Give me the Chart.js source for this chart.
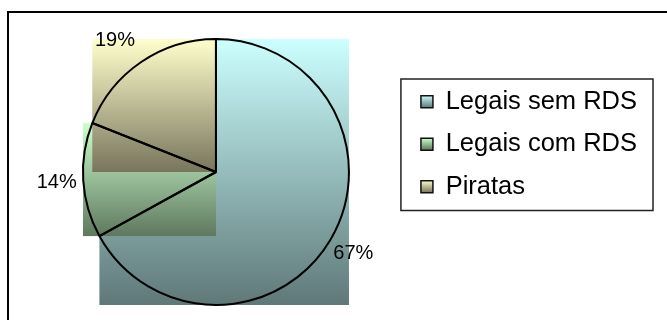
<!DOCTYPE html>
<html>
<head>
<meta charset="utf-8">
<script src="https://cdn.jsdelivr.net/npm/chart.js@4"></script>
<style>
  html, body { margin: 0; padding: 0; background: #fff; overflow: hidden; }
  #frame { position: absolute; left: 7px; top: 11px; width: 700px; height: 400px; border: 2px solid #000; }
  #wrap { position: absolute; left: 0; top: 0; width: 667px; height: 320px; }
</style>
</head>
<body>
<div id="frame"></div>
<div id="wrap"><canvas id="pie" width="667" height="320"></canvas></div>
<script>
// 資料
const categories = ['Legais sem RDS', 'Legais com RDS', 'Piratas'];
const shares = [67, 14, 19];

// 漸層配色 (上 → 下)
const TOP_COLORS = ['#ccffff', '#ccffcc', '#ffffcc'];
const BOTTOM_COLORS = ['#5f7878', '#5f785f', '#78755c'];
const FONT = '"Liberation Sans", Arial, sans-serif';

function arcProps(arc) {
    return arc.getProps(['x', 'y', 'startAngle', 'endAngle', 'outerRadius'], true);
}

// 扇形的外接矩形
function sliceBox(arc) {
    const { x, y, startAngle, endAngle, outerRadius: r } = arcProps(arc);
    const xs = [x, x + r * Math.cos(startAngle), x + r * Math.cos(endAngle)];
    const ys = [y, y + r * Math.sin(startAngle), y + r * Math.sin(endAngle)];
    for (let k = -4; k <= 8; k++) {
        const a = k * Math.PI / 2;
        if (a > startAngle && a < endAngle) {
            xs.push(x + r * Math.cos(a));
            ys.push(y + r * Math.sin(a));
        }
    }
    return {
        left: Math.min(...xs), right: Math.max(...xs),
        top: Math.min(...ys), bottom: Math.max(...ys),
    };
}

function vGradient(ctx, top, bottom, i) {
    const g = ctx.createLinearGradient(0, top, 0, bottom);
    g.addColorStop(0, TOP_COLORS[i]);
    g.addColorStop(1, BOTTOM_COLORS[i]);
    return g;
}

// 舊版 Excel 風格：漸層填滿整個外接矩形
const gradientBoxes = {
    id: 'gradientBoxes',
    beforeDatasetsDraw(chart) {
        const ctx = chart.ctx;
        chart.getDatasetMeta(0).data.forEach((arc, i) => {
            const b = sliceBox(arc);
            ctx.save();
            ctx.fillStyle = vGradient(ctx, b.top, b.bottom, i);
            ctx.fillRect(b.left, b.top, b.right - b.left, b.bottom - b.top);
            ctx.restore();
        });
    },
};

// 百分比標籤 (外側，略往水平方向推)
const sliceLabels = {
    id: 'sliceLabels',
    afterDatasetsDraw(chart) {
        const ctx = chart.ctx;
        const total = shares.reduce((a, b) => a + b, 0);
        ctx.save();
        ctx.font = '20px ' + FONT;
        ctx.fillStyle = '#000';
        ctx.textAlign = 'center';
        ctx.textBaseline = 'middle';
        chart.getDatasetMeta(0).data.forEach((arc, i) => {
            const { x, y, startAngle, endAngle, outerRadius } = arcProps(arc);
            const mid = (startAngle + endAngle) / 2;
            const d = outerRadius * 1.2;
            const cx = x + Math.cos(mid) * d;
            const cy = y + Math.sin(mid) * d;
            const shift = Math.sin(mid) < -0.5 ? Math.cos(mid) * 20 : 0;
            ctx.fillText(Math.round(shares[i] / total * 100) + '%', cx + shift, cy);
        });
        ctx.restore();
    },
};

// 圖例：漸層色塊 + 外框
const legendStyle = {
    id: 'legendStyle',
    beforeDraw(chart) {
        const lg = chart.legend;
        const ctx = chart.ctx;
        lg.legendItems.forEach((item, i) => {
            const hb = lg.legendHitBoxes[i];
            const top = hb.top + (25 - 12) / 2;
            item.fillStyle = vGradient(ctx, top, top + 12, i);
            item.strokeStyle = '#111';
            item.lineWidth = 1.5;
        });
    },
    afterDraw(chart) {
        const boxes = chart.legend.legendHitBoxes;
        if (!boxes.length) return;
        const ctx = chart.ctx;
        const left = Math.min(...boxes.map(b => b.left)) - 20;
        const right = Math.max(...boxes.map(b => b.left + b.width)) + 16;
        const top = Math.min(...boxes.map(b => b.top)) - 10;
        const bottom = Math.max(...boxes.map(b => b.top + b.height)) + 11;
        ctx.save();
        ctx.strokeStyle = '#222';
        ctx.lineWidth = 1.5;
        ctx.strokeRect(left, top, right - left, bottom - top);
        ctx.restore();
    },
};

Chart.defaults.color = '#000';
Chart.defaults.font.family = FONT;

new Chart(document.getElementById('pie'), {
    type: 'pie',
    data: {
        labels: categories,
        datasets: [{
            data: shares,
            backgroundColor: 'rgba(0,0,0,0)',
            borderColor: '#000',
            borderWidth: 2,
            clip: false,
        }],
    },
    options: {
        responsive: false,
        animation: false,
        events: [],
        radius: 133,
        layout: { padding: { left: 28, right: 20, top: 72, bottom: 48 } },
        plugins: {
            tooltip: { enabled: false },
            legend: {
                position: 'right',
                align: 'start',
                labels: {
                    boxWidth: 12,
                    boxHeight: 12,
                    padding: 17,
                    color: '#000',
                    font: { size: 25.5, family: FONT },
                },
            },
        },
    },
    plugins: [gradientBoxes, sliceLabels, legendStyle],
});
</script>
</body>
</html>
